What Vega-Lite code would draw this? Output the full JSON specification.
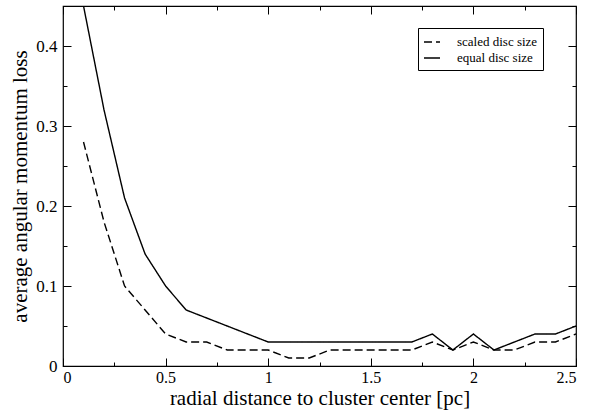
{
  "$schema": "https://vega.github.io/schema/vega-lite/v6.json",
  "width": 513,
  "height": 360,
  "autosize": {"type": "none"},
  "padding": {"left": 63, "top": 6, "right": 25, "bottom": 46},
  "background": "white",
  "config": {
    "view": {"stroke": "black", "strokeWidth": 1.2},
    "axis": {"grid": false, "domain": false, "tickColor": "black", "tickWidth": 1}
  },
  "data": {
    "values": [
      {"r": 0.1, "loss": 0.45, "series": "equal disc size"},
      {"r": 0.2, "loss": 0.32, "series": "equal disc size"},
      {"r": 0.3, "loss": 0.21, "series": "equal disc size"},
      {"r": 0.4, "loss": 0.14, "series": "equal disc size"},
      {"r": 0.5, "loss": 0.10, "series": "equal disc size"},
      {"r": 0.6, "loss": 0.07, "series": "equal disc size"},
      {"r": 0.7, "loss": 0.06, "series": "equal disc size"},
      {"r": 0.8, "loss": 0.05, "series": "equal disc size"},
      {"r": 0.9, "loss": 0.04, "series": "equal disc size"},
      {"r": 1.0, "loss": 0.03, "series": "equal disc size"},
      {"r": 1.1, "loss": 0.03, "series": "equal disc size"},
      {"r": 1.2, "loss": 0.03, "series": "equal disc size"},
      {"r": 1.3, "loss": 0.03, "series": "equal disc size"},
      {"r": 1.4, "loss": 0.03, "series": "equal disc size"},
      {"r": 1.5, "loss": 0.03, "series": "equal disc size"},
      {"r": 1.6, "loss": 0.03, "series": "equal disc size"},
      {"r": 1.7, "loss": 0.03, "series": "equal disc size"},
      {"r": 1.8, "loss": 0.04, "series": "equal disc size"},
      {"r": 1.9, "loss": 0.02, "series": "equal disc size"},
      {"r": 2.0, "loss": 0.04, "series": "equal disc size"},
      {"r": 2.1, "loss": 0.02, "series": "equal disc size"},
      {"r": 2.2, "loss": 0.03, "series": "equal disc size"},
      {"r": 2.3, "loss": 0.04, "series": "equal disc size"},
      {"r": 2.4, "loss": 0.04, "series": "equal disc size"},
      {"r": 2.5, "loss": 0.05, "series": "equal disc size"},
      {"r": 0.1, "loss": 0.28, "series": "scaled disc size"},
      {"r": 0.2, "loss": 0.18, "series": "scaled disc size"},
      {"r": 0.3, "loss": 0.10, "series": "scaled disc size"},
      {"r": 0.4, "loss": 0.07, "series": "scaled disc size"},
      {"r": 0.5, "loss": 0.04, "series": "scaled disc size"},
      {"r": 0.6, "loss": 0.03, "series": "scaled disc size"},
      {"r": 0.7, "loss": 0.03, "series": "scaled disc size"},
      {"r": 0.8, "loss": 0.02, "series": "scaled disc size"},
      {"r": 0.9, "loss": 0.02, "series": "scaled disc size"},
      {"r": 1.0, "loss": 0.02, "series": "scaled disc size"},
      {"r": 1.1, "loss": 0.01, "series": "scaled disc size"},
      {"r": 1.2, "loss": 0.01, "series": "scaled disc size"},
      {"r": 1.3, "loss": 0.02, "series": "scaled disc size"},
      {"r": 1.4, "loss": 0.02, "series": "scaled disc size"},
      {"r": 1.5, "loss": 0.02, "series": "scaled disc size"},
      {"r": 1.6, "loss": 0.02, "series": "scaled disc size"},
      {"r": 1.7, "loss": 0.02, "series": "scaled disc size"},
      {"r": 1.8, "loss": 0.03, "series": "scaled disc size"},
      {"r": 1.9, "loss": 0.02, "series": "scaled disc size"},
      {"r": 2.0, "loss": 0.03, "series": "scaled disc size"},
      {"r": 2.1, "loss": 0.02, "series": "scaled disc size"},
      {"r": 2.2, "loss": 0.02, "series": "scaled disc size"},
      {"r": 2.3, "loss": 0.03, "series": "scaled disc size"},
      {"r": 2.4, "loss": 0.03, "series": "scaled disc size"},
      {"r": 2.5, "loss": 0.04, "series": "scaled disc size"}
    ]
  },
  "resolve": {"axis": {"x": "independent", "y": "independent"}},
  "layer": [
    {
      "mark": {"type": "line", "color": "black", "strokeWidth": 1.4, "clip": true},
      "encoding": {
        "x": {
          "field": "r", "type": "quantitative",
          "scale": {"domain": [0, 2.5], "nice": false, "zero": false},
          "axis": {"orient": "bottom", "values": [0, 0.5, 1, 1.5, 2, 2.5], "format": "~g", "tickSize": -8, "labelPadding": 11,
            "labelFont": "Liberation Serif", "labelFontSize": 16, "labelColor": "black",
            "title": "radial distance to cluster center [pc]", "titleFont": "Liberation Serif", "titleFontSize": 21, "titleFontWeight": "normal", "titleColor": "black", "titlePadding": 2}
        },
        "y": {
          "field": "loss", "type": "quantitative",
          "scale": {"domain": [0, 0.45], "nice": false, "zero": false},
          "axis": {"orient": "left", "values": [0, 0.1, 0.2, 0.3, 0.4], "format": "~g", "tickSize": -8, "labelPadding": 14,
            "labelFont": "Liberation Serif", "labelFontSize": 17, "labelColor": "black",
            "title": "average angular momentum loss", "titleFont": "Liberation Serif", "titleFontSize": 21, "titleFontWeight": "normal", "titleColor": "black", "titlePadding": 5}
        },
        "strokeDash": {
          "field": "series", "type": "nominal",
          "scale": {"domain": ["scaled disc size", "equal disc size"], "range": [[8, 4], [1, 0]]},
          "legend": {
            "title": null,
            "orient": "none",
            "legendX": 355,
            "legendY": 22,
            "strokeColor": "black",
            "fillColor": "white",
            "padding": 5,
            "symbolType": "stroke",
            "symbolSize": 256,
            "symbolStrokeWidth": 1.4,
            "symbolStrokeColor": "black",
            "labelFont": "Liberation Serif",
            "labelFontSize": 13,
            "labelColor": "black",
            "labelOffset": 16,
            "rowPadding": 0
          }
        }
      }
    },
    {
      "mark": {"type": "point", "opacity": 0},
      "encoding": {
        "x": {"field": "r", "type": "quantitative", "scale": {"domain": [0, 2.5], "nice": false, "zero": false},
          "axis": {"orient": "top", "values": [0, 0.5, 1, 1.5, 2, 2.5], "tickSize": -8, "labels": false, "title": null}},
        "y": {"field": "loss", "type": "quantitative", "scale": {"domain": [0, 0.45], "nice": false, "zero": false},
          "axis": {"orient": "right", "values": [0, 0.1, 0.2, 0.3, 0.4], "tickSize": -8, "labels": false, "title": null}}
      }
    },
    {
      "mark": {"type": "point", "opacity": 0},
      "encoding": {
        "x": {"field": "r", "type": "quantitative", "scale": {"domain": [0, 2.5], "nice": false, "zero": false},
          "axis": {"orient": "bottom", "values": [0.25, 0.75, 1.25, 1.75, 2.25], "tickSize": -4, "labels": false, "title": null}},
        "y": {"field": "loss", "type": "quantitative", "scale": {"domain": [0, 0.45], "nice": false, "zero": false},
          "axis": {"orient": "left", "values": [0.05, 0.15, 0.25, 0.35], "tickSize": -4, "labels": false, "title": null}}
      }
    },
    {
      "mark": {"type": "point", "opacity": 0},
      "encoding": {
        "x": {"field": "r", "type": "quantitative", "scale": {"domain": [0, 2.5], "nice": false, "zero": false},
          "axis": {"orient": "top", "values": [0.25, 0.75, 1.25, 1.75, 2.25], "tickSize": -4, "labels": false, "title": null}},
        "y": {"field": "loss", "type": "quantitative", "scale": {"domain": [0, 0.45], "nice": false, "zero": false},
          "axis": {"orient": "right", "values": [0.05, 0.15, 0.25, 0.35], "tickSize": -4, "labels": false, "title": null}}
      }
    }
  ]
}
